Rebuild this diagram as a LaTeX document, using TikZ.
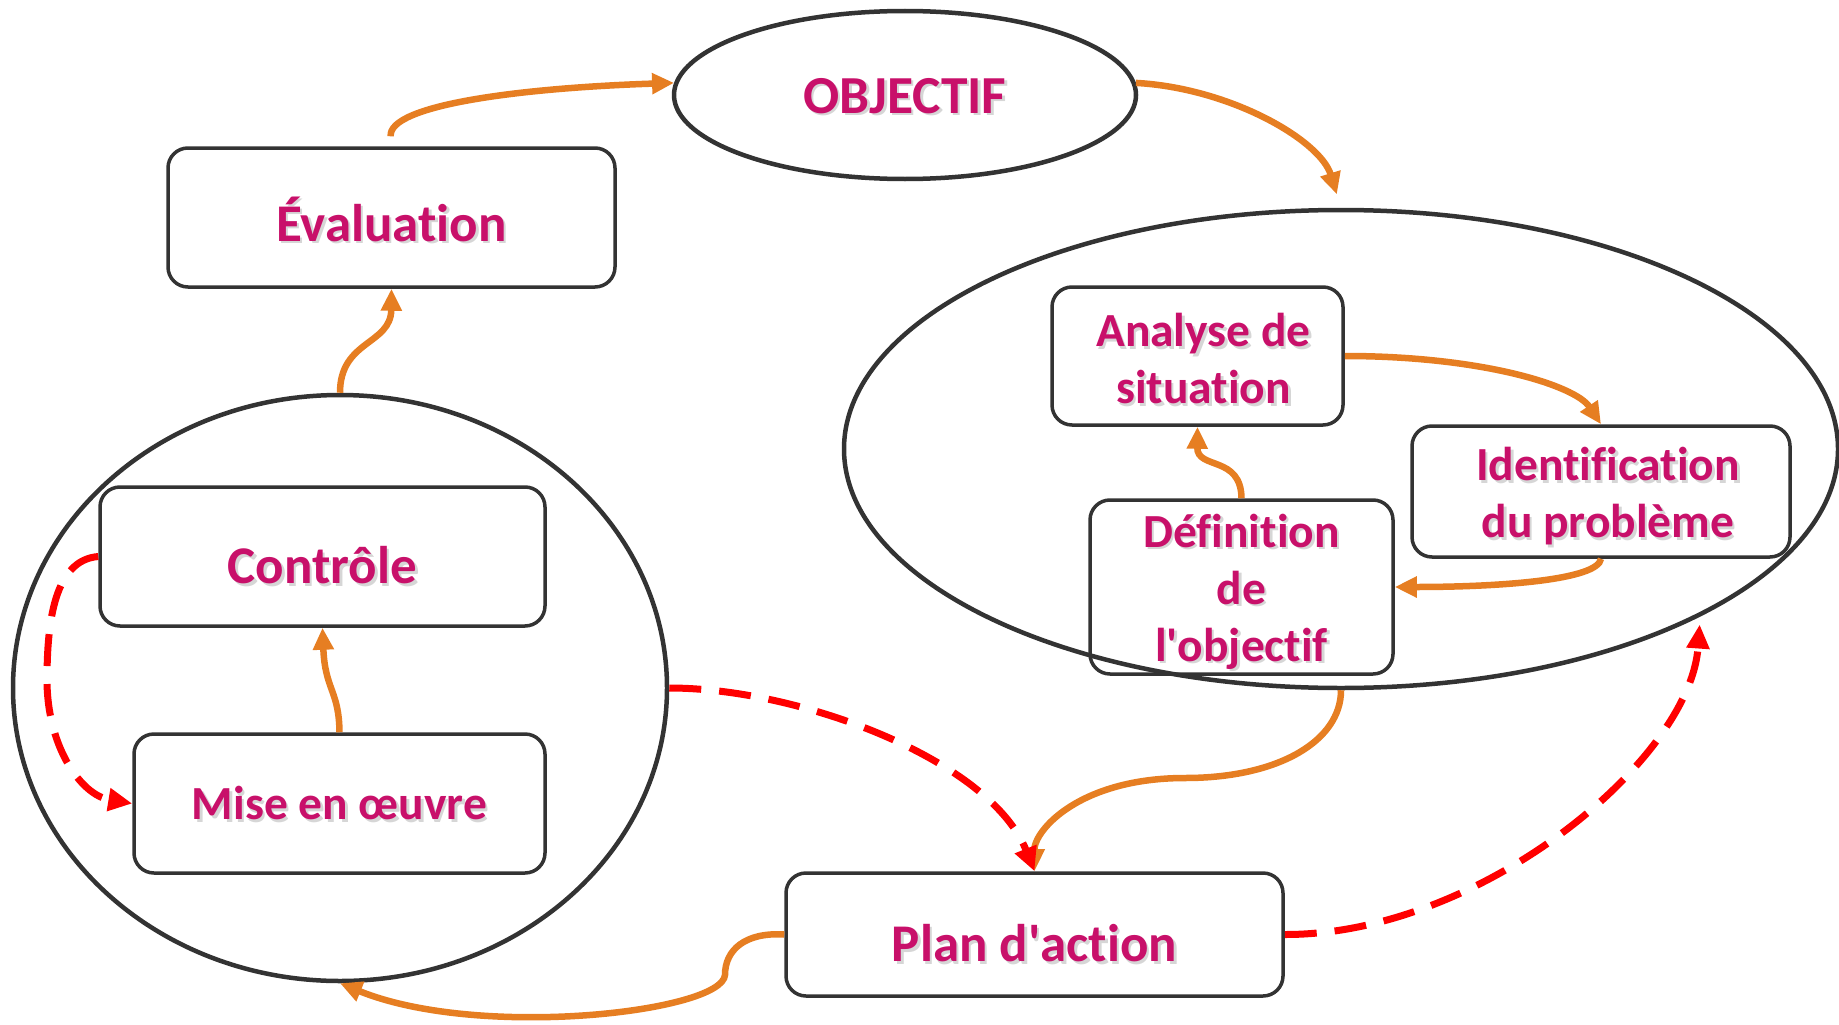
\documentclass[tikz,border=0pt]{standalone}
\usepackage{fontspec}
\setmainfont{Carlito}[Ligatures=NoCommon]
\usetikzlibrary{shapes.geometric,arrows.meta}
\definecolor{rose}{RGB}{200,16,106}
\definecolor{fleche}{RGB}{230,126,34}
\definecolor{trait}{RGB}{51,51,51}
% text with a light drop shadow, lowered a little inside its box
\newcommand\ombre[2][5pt]{\raisebox{-#1}[\height][\depth]{%
  \rlap{\kern2.5pt\raisebox{-2.5pt}{\color{black!16}#2}}#2}}
\begin{document}
\begin{tikzpicture}[x=1pt,y=-1pt,
  box/.style={draw=trait,line width=3.5pt,rounded corners=20pt,inner sep=0pt,
    text=rose,align=center,font=\bfseries\fontsize{53}{64}\selectfont},
  small/.style={font=\bfseries\fontsize{47.5}{57}\selectfont},
  oval/.style={ellipse,draw=trait,line width=4.5pt,inner sep=0pt,
    text=rose,font=\bfseries\fontsize{53.5}{64}\selectfont},
  flow/.style={draw=fleche,line width=6.5pt,-{Triangle[length=22pt,width=20pt]}},
  back/.style={draw=red,line width=7pt,dash pattern=on 32pt off 18pt,
    -{Triangle[length=24pt,width=22pt]}}]
  \useasboundingbox (0,0) rectangle (1839,1025);
  % objective
  \node[oval,minimum width=462pt,minimum height=168pt] (obj) at (905,95) {\ombre[2pt]{OBJECTIF}};
  % study phase (right)
  \node[oval,minimum width=994pt,minimum height=478pt] (etude) at (1341,449) {};
  \node[box,small,minimum width=291pt,minimum height=138pt] (ana) at (1197.5,356)
    {\hspace*{12pt}\ombre[4pt]{Analyse de}\\\hspace*{12pt}\ombre[4pt]{situation}};
  \node[box,small,minimum width=378pt,minimum height=131pt] (ident) at (1601,491.5)
    {\hspace*{14pt}\ombre[6pt]{Identification}\\\hspace*{14pt}\ombre[6pt]{du problème}};
  \node[box,small,minimum width=303pt,minimum height=174pt] (def) at (1241.5,587)
    {\ombre[6pt]{Définition}\\\ombre[6pt]{de}\\\ombre[6pt]{l\textquotesingle objectif}};
  % execution phase (left)
  \node[oval,minimum width=654pt,minimum height=586pt] (exec) at (340,688) {};
  \node[box,minimum width=445pt,minimum height=139pt] (ctrl) at (322.5,556.5) {\ombre[10pt]{Contrôle}};
  \node[box,small,minimum width=411pt,minimum height=139pt] (oeuvre) at (339.5,803.5)
    {\ombre[1pt]{Mise en œuvre}};
  % evaluation and plan
  \node[box,minimum width=447pt,minimum height=139pt] (eval) at (391.5,217.5) {\ombre[3pt]{Évaluation}};
  \node[box,minimum width=497pt,minimum height=123pt] (plan) at (1034.5,934.5)
    {\ombre[10pt]{Plan d\textquotesingle action}};

  % main cycle
  \draw[flow,shorten <=10pt] (eval.north) .. controls (388,105) and (520,88) .. (obj.177);
  \draw[flow,shorten >=14pt] (obj.3) .. controls (1230,88) and (1320,140) .. (etude.north);
  \draw[flow] (ana.east) .. controls (1480,356) and (1575,385) .. (ident.north);
  \draw[flow] (ident.south) .. controls (1598,580) and (1500,587) .. (def.east);
  \draw[flow] (def.north) .. controls (1241,455) and (1197,470) .. (ana.south);
  \draw[flow] (etude.south) .. controls (1341,740) and (1280,778) .. (1185,778)
    .. controls (1080,778) and (1034,830) .. (plan.north);
  \draw[flow] (plan.west) .. controls (745,932) and (725,950) .. (725,975)
    .. controls (722,1012) and (480,1040) .. (exec.south);
  \draw[flow] (oeuvre.north) .. controls (339,690) and (325,690) .. (ctrl.south);
  \draw[flow] (exec.north) .. controls (340,340) and (391,345) .. (eval.south);

  % feedback loops
  \draw[back] (ctrl.west) .. controls (55,560) and (47,620) .. (47,680)
    .. controls (47,745) and (80,795) .. (oeuvre.west);
  \draw[back] (exec.east) .. controls (800,688) and (990,760) .. (plan.north);
  \draw[back,shorten >=8pt] (plan.east) .. controls (1480,935) and (1690,760) .. (etude.-25);
\end{tikzpicture}
\end{document}
